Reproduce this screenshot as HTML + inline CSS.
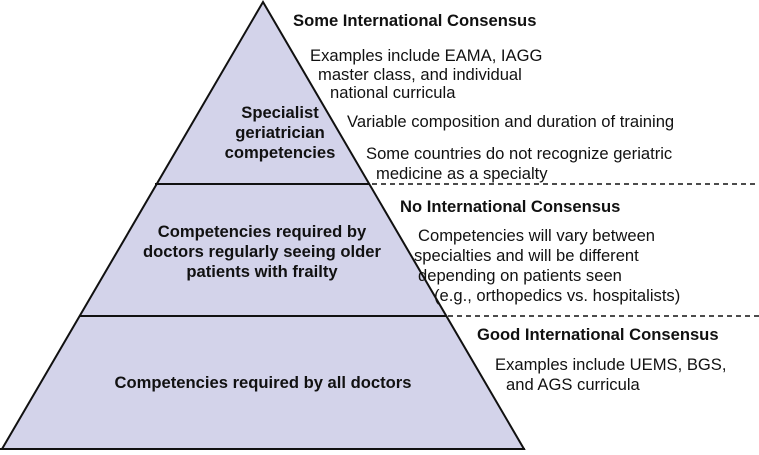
<!DOCTYPE html>
<html><head><meta charset="utf-8"><style>
body{margin:0;background:#fff;width:759px;height:450px;overflow:hidden}
text{font-family:"Liberation Sans",Arial,sans-serif;fill:#111;font-size:16.6px}
.b{font-weight:bold}
</style></head><body>
<svg width="759" height="450" viewBox="0 0 759 450">
<polygon points="263,2 2,449 524,449" fill="#d3d3ea" stroke="#111" stroke-width="2"/>
<line x1="155" y1="184" x2="370" y2="184" stroke="#111" stroke-width="2"/>
<line x1="80" y1="316" x2="446" y2="316" stroke="#111" stroke-width="2"/>
<line x1="0" y1="449" x2="525" y2="449" stroke="#111" stroke-width="2"/>
<line x1="372" y1="184" x2="759" y2="184" stroke="#111" stroke-width="1.5" stroke-dasharray="5,4"/>
<line x1="448" y1="316" x2="759" y2="316" stroke="#111" stroke-width="1.5" stroke-dasharray="5,4"/>
<g text-anchor="middle">
<text x="280" y="118" class="b">Specialist</text>
<text x="280" y="138" class="b">geriatrician</text>
<text x="280" y="158" class="b">competencies</text>
<text x="262" y="237" class="b">Competencies required by</text>
<text x="262" y="257" class="b">doctors regularly seeing older</text>
<text x="262" y="277" class="b">patients with frailty</text>
<text x="263" y="388" class="b">Competencies required by all doctors</text>
</g>
<text x="293" y="26" class="b">Some International Consensus</text>
<text x="310" y="61">Examples include EAMA, IAGG</text>
<text x="318" y="80">master class, and individual</text>
<text x="330" y="98">national curricula</text>
<text x="347" y="127">Variable composition and duration of training</text>
<text x="366" y="159">Some countries do not recognize geriatric</text>
<text x="376" y="179">medicine as a specialty</text>
<text x="400" y="212" class="b">No International Consensus</text>
<text x="418" y="241">Competencies will vary between</text>
<text x="414" y="261">specialties and will be different</text>
<text x="418" y="281">depending on patients seen</text>
<text x="434" y="301">(e.g., orthopedics vs. hospitalists)</text>
<text x="477" y="340" class="b">Good International Consensus</text>
<text x="495" y="370">Examples include UEMS, BGS,</text>
<text x="506" y="390">and AGS curricula</text>
</svg>
</body></html>
